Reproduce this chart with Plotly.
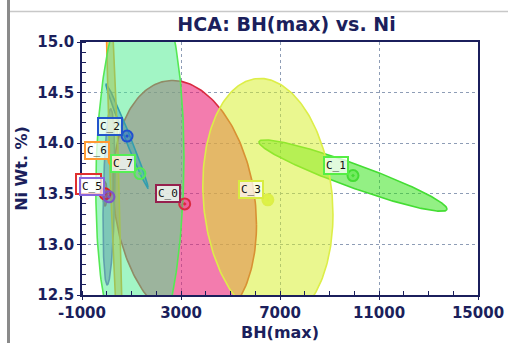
import numpy as np
import plotly.graph_objects as go

# ---------------- data ----------------
clusters = ["C_0", "C_1", "C_2", "C_3", "C_4", "C_5", "C_6", "C_7"]
label_texts = ["C_0", "C_1", "C_2", "C_3", " ", "C_5", "C_6", "C_7"]   # C_4's label is hidden under C_5
center_bh = [3150, 9950, 820, 6510, -70, 90, 290, 1340]
center_ni = [13.40, 13.68, 14.07, 13.44, 13.50, 13.47, 13.83, 13.70]
spread_bh = [2900, 3800, 850, 2630, 80, 240, 400, 1780]
spread_ni = [1.22, 0.353, 0.514, 1.20, 0.12, 0.87, 3.0, 1.95]
corr = [-0.17, -0.937, -0.99, -0.12, 0.0, 0.3, -0.9, 0.08]

line_colors = ["#DA2A40", "#44DD33", "#2050D0", "#DDEE48", "#E02020", "#7A55CC", "#FF9A20", "#55E855"]
fill_colors = ["rgba(235,30,115,0.58)", "rgba(40,225,10,0.5)", "rgba(30,80,220,0.42)",
               "rgba(215,240,40,0.52)", "rgba(220,30,30,0.5)", "rgba(110,70,200,0.5)",
               "rgba(255,150,20,0.5)", "rgba(70,235,140,0.5)"]
marker_fills = ["rgba(235,30,115,0.3)", "rgba(40,225,10,0.3)", "rgba(30,80,220,0.3)",
                "rgba(215,240,40,0.7)", "rgba(220,30,30,0.3)", "rgba(110,70,200,0.3)",
                "rgba(255,150,20,0.3)", "rgba(80,235,150,0.3)"]
label_borders = ["#96204E", "#55EE44", "#2255CC", "#D8EC40", "#E03030", "#8866DD", "#FF9933", "#55EE55"]

x_ticks = [-1000, 3000, 7000, 11000, 15000]
y_ticks = [12.5, 13.0, 13.5, 14.0, 14.5, 15.0]

navy = "#1B1F5C"

fig = go.Figure()
t = np.linspace(0, 2 * np.pi, 240)
for i, name in enumerate(clusters):
    r = corr[i]
    ex = center_bh[i] + spread_bh[i] * np.cos(t)
    ey = center_ni[i] + spread_ni[i] * (r * np.cos(t) + np.sqrt(1 - r * r) * np.sin(t))
    fig.add_trace(go.Scatter(x=ex, y=ey, mode="lines", fill="toself",
                             fillcolor=fill_colors[i],
                             line=dict(color=line_colors[i], width=1.6),
                             hoverinfo="skip", name=name))

for i, name in enumerate(clusters):
    fig.add_trace(go.Scatter(x=[center_bh[i]], y=[center_ni[i]], mode="markers",
                             marker=dict(symbol="circle-dot", size=11, color=marker_fills[i],
                                         line=dict(color=line_colors[i], width=2)),
                             name=name, cliponaxis=True))
    ann = dict(x=center_bh[i], y=center_ni[i], xref="x", yref="y",
               text=label_texts[i], showarrow=False, xshift=-17, yshift=10,
               font=dict(family="DejaVu Sans Mono", size=11, color="#111111"),
               bgcolor="rgba(255,255,255,0.72)", bordercolor=label_borders[i],
               borderwidth=2, borderpad=1)
    if label_texts[i].strip() == "":
        ann.update(width=21, height=16)
    fig.add_annotation(**ann)

axis_common = dict(showline=True, mirror=True, linecolor=navy, linewidth=1.5,
                   showgrid=True, gridcolor="#8E9DB6", griddash="dot", gridwidth=1,
                   ticks="outside", ticklen=3, tickcolor=navy, tickwidth=1.2,
                   zeroline=False, automargin=False,
                   tickfont=dict(family="DejaVu Sans", size=15, color=navy, weight="bold"))

fig.update_xaxes(range=[-1000, 15000], tickvals=x_ticks,
                 ticktext=[str(v) for v in x_ticks],
                 minor=dict(dtick=1000, tick0=-1000, ticks="inside", ticklen=4,
                            tickcolor=navy, showgrid=False),
                 title=dict(text="<b>BH(max)</b>", font=dict(size=16, color=navy), standoff=6),
                 **axis_common)
fig.update_yaxes(range=[12.5, 15.0], tickvals=y_ticks,
                 ticktext=[f"{v:.1f}" for v in y_ticks],
                 minor=dict(dtick=0.1, tick0=12.5, ticks="inside", ticklen=4,
                            tickcolor=navy, showgrid=False),
                 title=dict(text="<b>Ni Wt. %)</b>", font=dict(size=16, color=navy), standoff=6),
                 **axis_common)

# decorative frame pieces of the original page (gray left bar, thin top rule)
fig.add_shape(type="rect", xref="paper", yref="paper",
              x0=(7 - 82) / 396, x1=(10 - 82) / 396, y0=(295 - 343) / 253, y1=295 / 253,
              fillcolor="#8A8A8A", line=dict(width=0), layer="above")
fig.add_shape(type="line", xref="paper", yref="paper",
              x0=(10 - 82) / 396, x1=(508 - 82) / 396, y0=(295 - 11.5) / 253, y1=(295 - 11.5) / 253,
              line=dict(color="#C8C8C8", width=1.5), layer="above")

fig.update_layout(
    width=508, height=343,
    margin=dict(l=82, r=30, t=42, b=48),
    plot_bgcolor="white", paper_bgcolor="white",
    showlegend=False,
    font=dict(family="DejaVu Sans", color=navy),
    title=dict(text="<b>HCA: BH(max) vs. Ni</b>", font=dict(size=19, color=navy),
               x=(286.5 - 82) / 396, xref="paper", xanchor="center",
               y=1 - 24 / 343, yref="container", yanchor="middle"),
)

fig.write_html("out.html")
